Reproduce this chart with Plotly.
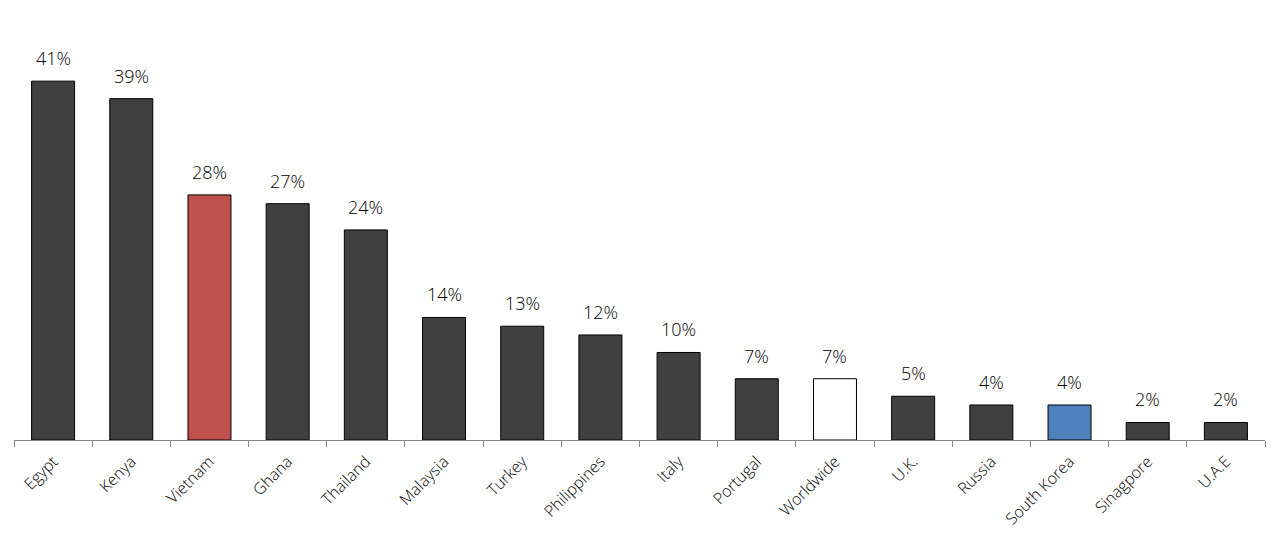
import plotly.graph_objects as go

countries = ['Egypt', 'Kenya', 'Vietnam', 'Ghana', 'Thailand', 'Malaysia', 'Turkey', 'Philippines',
             'Italy', 'Portugal', 'Worldwide', 'U.K.', 'Russia', 'South Korea', 'Sinagpore', 'U.A.E']
shares = [41, 39, 28, 27, 24, 14, 13, 12, 10, 7, 7, 5, 4, 4, 2, 2]

# highlight colours per bar
colors = ['#404040'] * len(countries)
colors[countries.index('Vietnam')] = '#C0504D'
colors[countries.index('Worldwide')] = '#FFFFFF'
colors[countries.index('South Korea')] = '#4F81BD'

fig = go.Figure(go.Bar(
    x=countries, y=shares,
    marker=dict(color=colors, line=dict(color='#000000', width=1)),
    cliponaxis=False,
))

# value labels a bit further above the bars than plotly's default
for c, v in zip(countries, shares):
    fig.add_annotation(x=c, y=v, text=f'{v}%', showarrow=False, yanchor='bottom', yshift=9,
                       font=dict(family='Open Sans', size=18, color='#000000', weight=300))

fig.update_layout(
    template='plotly_white',
    width=1280, height=534,
    margin=dict(l=6, r=23, t=32, b=102),
    bargap=0.45,
    showlegend=False,
    plot_bgcolor='white', paper_bgcolor='white',
)
fig.update_xaxes(showline=True, linecolor='#888888', linewidth=1, showgrid=False,
                 ticks='outside', tickson='boundaries', ticklen=6, tickcolor='#888888',
                 tickangle=-45, automargin=False, ticklabelstandoff=5,
                 tickfont=dict(family='Open Sans', size=16, color='#000000', weight=300))
fig.update_yaxes(visible=False, range=[0, 45.7], showgrid=False)

fig.write_html('out.html')
